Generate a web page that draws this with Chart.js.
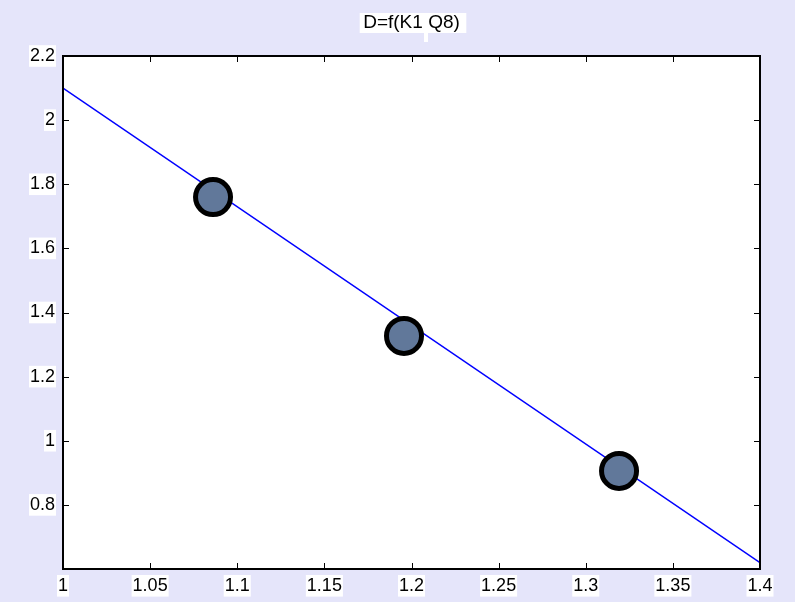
<!DOCTYPE html>
<html>
<head>
<meta charset="utf-8">
<script src="https://cdn.jsdelivr.net/npm/chart.js@4/dist/chart.umd.min.js"></script>
<style>
  html, body { margin: 0; padding: 0; background: #e5e5fa; }
  #wrap { width: 795px; height: 602px; }
</style>
</head>
<body>
<div id="wrap"><canvas id="c" width="795" height="602"></canvas></div>
<script>
const chartTitle = 'D=f(K1 Q8)';
const fitX = [1, 1.4];
const fitY = [2.1, 0.62];
const pointX = [1.0861, 1.1957, 1.3191];
const pointY = [1.760, 1.327, 0.906];
const xTickValues = [1, 1.05, 1.1, 1.15, 1.2, 1.25, 1.3, 1.35, 1.4];
const yTickValues = [0.8, 1, 1.2, 1.4, 1.6, 1.8, 2, 2.2];

const FONT = "'Liberation Sans', Arial, Helvetica, sans-serif";
const fmt = v => String(+Number(v).toFixed(4));

const framePlugin = {
  id: 'frame',
  beforeDraw(chart) {
    const { ctx, chartArea: a } = chart;
    ctx.save();
    ctx.fillStyle = '#ffffff';
    ctx.fillRect(a.left, a.top, a.right - a.left, a.bottom - a.top);
    const t = chart.titleBlock;
    if (t) {
      ctx.font = '19px ' + FONT;
      const w = ctx.measureText(chartTitle).width;
      const cx = (t.left + t.right) / 2 + 1.5;
      ctx.fillRect(cx - w / 2 - 5, 13, w + 10, 20);
      ctx.fillRect(cx + 11, 33, 4, 9);
    }
    ctx.restore();
  },
  afterDraw(chart) {
    const { ctx, chartArea: a, scales } = chart;
    ctx.save();
    ctx.strokeStyle = '#000000';
    ctx.lineWidth = 1;
    const L = 6;
    ctx.beginPath();
    xTickValues.forEach(v => {
      const px = Math.round(scales.x.getPixelForValue(v)) + 0.5;
      ctx.moveTo(px, a.bottom); ctx.lineTo(px, a.bottom - L);
      ctx.moveTo(px, a.top); ctx.lineTo(px, a.top + L);
    });
    yTickValues.forEach(v => {
      const py = Math.round(scales.y.getPixelForValue(v)) + 0.5;
      ctx.moveTo(a.left, py); ctx.lineTo(a.left + L, py);
      ctx.moveTo(a.right, py); ctx.lineTo(a.right - L, py);
    });
    ctx.stroke();
    ctx.lineWidth = 2;
    ctx.strokeRect(a.left, a.top, a.right - a.left, a.bottom - a.top);
    ctx.restore();
  }
};

new Chart(document.getElementById('c'), {
  type: 'scatter',
  data: {
    datasets: [
      {
        type: 'scatter',
        data: pointX.map((x, i) => ({ x, y: pointY[i] })),
        pointRadius: 17.5,
        pointHoverRadius: 17.5,
        pointBorderWidth: 5,
        pointBackgroundColor: '#61789a',
        pointBorderColor: '#000000',
        order: 1
      },
      {
        type: 'line',
        data: fitX.map((x, i) => ({ x, y: fitY[i] })),
        borderColor: '#0000ff',
        borderWidth: 1.5,
        pointRadius: 0,
        showLine: true,
        fill: false,
        order: 2
      }
    ]
  },
  options: {
    responsive: false,
    animation: false,
    events: [],
    layout: { padding: { left: 0, right: 35, top: 0, bottom: 0 } },
    plugins: {
      legend: { display: false },
      tooltip: { enabled: false },
      title: {
        display: true,
        text: chartTitle,
        fullSize: false,
        color: '#000000',
        font: { family: FONT, size: 19, weight: 'normal', lineHeight: 1.1 },
        padding: { top: 12.5, bottom: 22.6 }
      }
    },
    scales: {
      x: {
        type: 'linear',
        min: 1, max: 1.4,
        afterBuildTicks: s => { s.ticks = xTickValues.map(v => ({ value: v })); },
        afterFit: s => { s.height = 33; },
        grid: { display: false, drawTicks: false },
        border: { display: false },
        ticks: {
          color: '#000000',
          font: { family: FONT, size: 18 },
          padding: 6,
          maxRotation: 0,
          autoSkip: false,
          callback: fmt,
          showLabelBackdrop: true,
          backdropColor: '#ffffff',
          backdropPadding: { x: 1, y: 0 }
        }
      },
      y: {
        type: 'linear',
        min: 0.6, max: 2.2,
        afterBuildTicks: s => { s.ticks = yTickValues.map(v => ({ value: v })); },
        afterFit: s => { s.width = 63; },
        grid: { display: false, drawTicks: false },
        border: { display: false },
        ticks: {
          color: '#000000',
          font: { family: FONT, size: 18 },
          padding: 8,
          autoSkip: false,
          callback: fmt,
          showLabelBackdrop: true,
          backdropColor: '#ffffff',
          backdropPadding: { x: 1, y: 0 }
        }
      }
    }
  },
  plugins: [framePlugin]
});
</script>
</body>
</html>
